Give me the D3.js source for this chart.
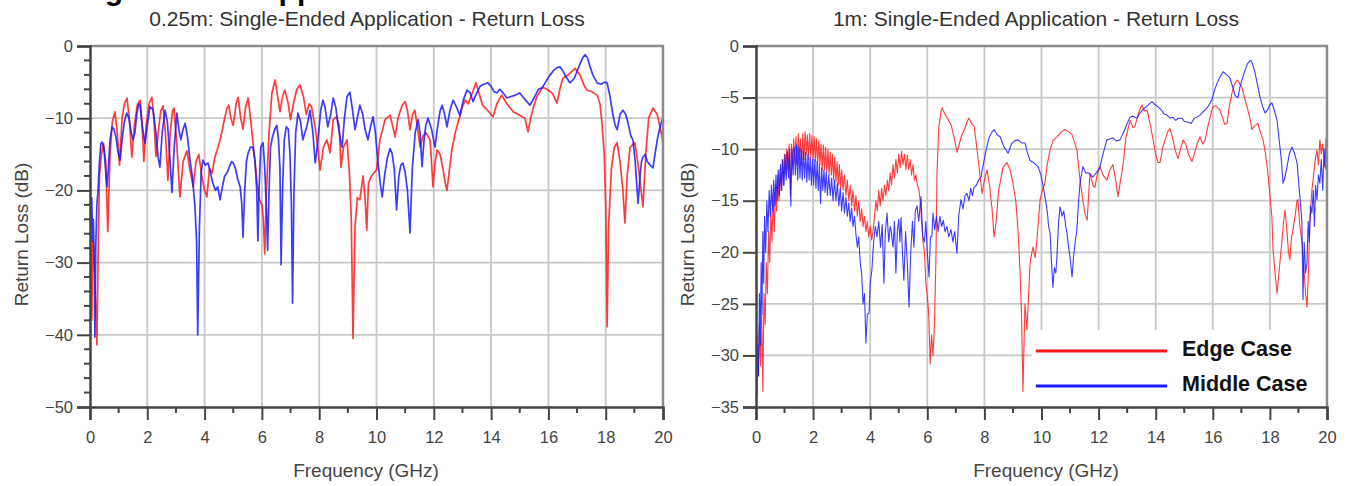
<!DOCTYPE html>
<html>
<head>
<meta charset="utf-8">
<script src="https://cdn.jsdelivr.net/npm/d3@7"></script>
<style>
  body { margin: 0; background: #fff; }
  svg { display: block; }
  text { font-family: Arial, "Liberation Sans", sans-serif; }
</style>
</head>
<body>
<svg id="fig" width="1348" height="486"></svg>
<script>
// ---- Data: return loss (dB) versus frequency (GHz), [GHz, dB] pairs ----
const freqTicks = [0, 2, 4, 6, 8, 10, 12, 14, 16, 18, 20];
const shortDbTicks = [0, -10, -20, -30, -40, -50];
const longDbTicks = [0, -5, -10, -15, -20, -25, -30, -35];
const seriesNames = ["Edge Case", "Middle Case"];
const seriesColors = ["#ff1a1a", "#1a1aff"];

// 0.25 m cable, edge pair
const edge025 = [
  [0.0,-22],[0.03,-24],[0.06,-38],[0.1,-27],[0.15,-30],[0.2,-36],[0.24,-41.4],[0.28,-30],[0.33,-18],[0.4,-15],
  [0.47,-13.5],[0.55,-16],[0.62,-25.7],[0.7,-15],[0.78,-10.5],[0.87,-9.1],[0.95,-12],[1.03,-16.5],[1.12,-10],[1.2,-8],
  [1.29,-7.2],[1.37,-10],[1.46,-15.4],[1.55,-11],[1.65,-8.2],[1.75,-7.5],[1.82,-11],[1.88,-16],[1.96,-11],[2.06,-8],
  [2.16,-7.1],[2.23,-10],[2.3,-15.3],[2.38,-12],[2.47,-9],[2.55,-8.3],[2.63,-12],[2.72,-18.6],[2.8,-12],[2.88,-9],
  [2.93,-8.6],[3.02,-13],[3.14,-20.9],[3.25,-16],[3.38,-14.5],[3.48,-17],[3.6,-19.5],[3.7,-16],[3.8,-15],[3.9,-18],
  [4.0,-20],[4.08,-20.9],[4.17,-17],[4.26,-17.6],[4.36,-15.4],[4.47,-14],[4.54,-13],[4.6,-12],[4.7,-10],[4.78,-8.6],
  [4.84,-8.2],[4.92,-10],[5.0,-11],[5.1,-8],[5.17,-7.1],[5.26,-10],[5.34,-11.5],[5.43,-8.5],[5.52,-7.2],[5.6,-10],
  [5.69,-13.4],[5.76,-16],[5.83,-19],[5.92,-21.3],[6.0,-22],[6.05,-24],[6.1,-28.8],[6.16,-20],[6.25,-12],[6.35,-6.5],
  [6.46,-4.7],[6.55,-7],[6.63,-9.1],[6.72,-7],[6.8,-6.1],[6.92,-8],[7.0,-10.2],[7.1,-8],[7.22,-6],[7.33,-5.4],
  [7.45,-7],[7.55,-9.5],[7.65,-8],[7.73,-8.4],[7.85,-11],[7.95,-14],[8.03,-17.2],[8.15,-14],[8.27,-13],[8.38,-14.8],
  [8.49,-10.2],[8.6,-9.8],[8.7,-11],[8.76,-16.8],[8.85,-14],[8.97,-13],[9.06,-18],[9.12,-24],[9.18,-40.5],[9.25,-25],
  [9.33,-21],[9.42,-21.3],[9.53,-18],[9.6,-21],[9.66,-25.5],[9.72,-19],[9.83,-18],[9.92,-17.5],[10.0,-17.2],[10.12,-13],
  [10.3,-10.2],[10.47,-9.6],[10.56,-11],[10.65,-12.6],[10.75,-10],[10.82,-9.1],[10.9,-8.2],[11.0,-7.7],[11.08,-9],[11.17,-11.6],
  [11.26,-9.5],[11.34,-8.9],[11.42,-11],[11.52,-14],[11.62,-12.5],[11.72,-12],[11.8,-12.5],[11.87,-13],[11.92,-16],[11.97,-19.5],
  [12.05,-16],[12.12,-14.4],[12.22,-15],[12.32,-17],[12.4,-19],[12.46,-20],[12.55,-17],[12.63,-14.4],[12.75,-12],[12.84,-10.7],
  [12.93,-9.5],[13.0,-8.4],[13.1,-7.5],[13.2,-8],[13.3,-7],[13.47,-5.1],[13.58,-6.5],[13.7,-8.2],[13.85,-8.8],[14.07,-9.8],
  [14.2,-8],[14.37,-6.8],[14.55,-8],[14.77,-9.1],[14.95,-9.5],[15.18,-10],[15.29,-11.9],[15.38,-10],[15.47,-8.6],[15.6,-7],
  [15.8,-5.7],[15.95,-6],[16.13,-6.5],[16.3,-7.9],[16.4,-6],[16.5,-4.5],[16.75,-3.8],[16.93,-3.1],[17.1,-4.0],[17.25,-5.5],
  [17.35,-6.1],[17.5,-6.3],[17.7,-6.8],[17.8,-8],[17.87,-10.7],[17.95,-15],[18.0,-22],[18.05,-38.9],[18.1,-25],[18.2,-17],
  [18.3,-14],[18.4,-13.4],[18.5,-16],[18.6,-20],[18.67,-24.5],[18.75,-18],[18.85,-14],[19.02,-13.4],[19.15,-17],[19.3,-22.3],
  [19.4,-15],[19.5,-10],[19.65,-8.6],[19.8,-9.5],[19.97,-12.6],[20.0,-14]
];

// 0.25 m cable, middle pair
const middle025 = [
  [0.0,-22],[0.03,-25],[0.06,-21],[0.09,-27],[0.12,-24],[0.15,-30],[0.17,-40.3],[0.2,-28],[0.24,-22],[0.28,-20],
  [0.33,-16],[0.38,-13.5],[0.42,-13.3],[0.48,-14],[0.53,-16.5],[0.59,-19.5],[0.63,-17.6],[0.7,-13],[0.77,-11.2],[0.83,-11.5],
  [0.9,-12.5],[0.97,-14.5],[1.05,-15.8],[1.12,-13],[1.2,-10.5],[1.28,-9.3],[1.36,-10],[1.44,-12],[1.5,-13],[1.57,-12],
  [1.63,-9.5],[1.7,-8],[1.75,-8.2],[1.82,-11],[1.92,-13.5],[2.0,-11],[2.09,-8.4],[2.2,-8.8],[2.3,-12],[2.38,-15.5],
  [2.44,-16.8],[2.52,-12],[2.62,-8.9],[2.7,-10.5],[2.78,-15],[2.86,-20.3],[2.94,-14],[3.03,-9.3],[3.1,-11.5],[3.17,-13],
  [3.25,-11.5],[3.32,-10.7],[3.4,-12.5],[3.49,-15.8],[3.57,-18],[3.66,-22],[3.72,-27],[3.76,-40],[3.82,-25],[3.88,-17.5],
  [3.94,-15.8],[4.03,-16.5],[4.12,-16.2],[4.2,-17.5],[4.29,-19],[4.38,-20],[4.46,-19.5],[4.54,-21.3],[4.62,-19.5],[4.7,-18],
  [4.78,-17.6],[4.86,-16.8],[4.94,-16],[5.0,-16.2],[5.08,-17],[5.16,-18.5],[5.24,-19.5],[5.3,-22],[5.34,-26.5],[5.4,-20],
  [5.46,-16],[5.52,-14.8],[5.6,-14],[5.69,-14],[5.76,-16],[5.82,-20],[5.86,-27],[5.9,-20],[5.96,-14],[6.04,-13.4],
  [6.1,-17],[6.16,-23],[6.2,-28.3],[6.25,-20],[6.3,-14],[6.37,-12.6],[6.45,-11.5],[6.52,-11],[6.58,-13],[6.63,-17],
  [6.67,-30.3],[6.72,-20],[6.78,-13],[6.85,-11.2],[6.92,-11.5],[6.98,-15],[7.03,-22],[7.07,-35.6],[7.12,-20],[7.18,-12],
  [7.26,-9.3],[7.35,-10.5],[7.43,-13],[7.5,-12],[7.58,-11],[7.68,-8.9],[7.78,-12],[7.86,-16.2],[7.92,-14.4],[7.98,-12],
  [8.05,-9],[8.13,-7.5],[8.2,-8.4],[8.3,-11.2],[8.4,-9.5],[8.49,-7.2],[8.58,-8.5],[8.66,-11],[8.74,-13],[8.8,-14],
  [8.88,-10],[8.97,-7],[9.07,-6.4],[9.15,-8.5],[9.25,-11.6],[9.33,-10],[9.42,-8.2],[9.52,-9.5],[9.6,-11.5],[9.7,-13],
  [9.8,-11],[9.88,-9.8],[9.96,-12],[10.05,-16],[10.13,-19],[10.2,-20.9],[10.28,-18],[10.38,-15.5],[10.47,-14.2],[10.54,-14.8],
  [10.62,-17],[10.7,-22.7],[10.78,-18],[10.85,-16.5],[10.92,-16.2],[11.0,-17.5],[11.08,-20],[11.17,-25.9],[11.25,-17],[11.35,-12],
  [11.45,-10.2],[11.52,-12],[11.59,-16.7],[11.66,-13],[11.72,-11],[11.8,-10],[11.92,-11.5],[12.04,-14],[12.14,-11],[12.22,-9],
  [12.29,-8.2],[12.38,-9.5],[12.46,-11.2],[12.56,-9],[12.67,-7.5],[12.8,-8.5],[12.91,-9.6],[13.03,-7.5],[13.16,-6.1],[13.27,-6.5],
  [13.37,-7.7],[13.5,-6.5],[13.63,-5.5],[13.75,-5.3],[13.89,-5.1],[14.0,-5.6],[14.1,-6.3],[14.2,-6.5],[14.3,-6],[14.42,-6.5],
  [14.55,-7.2],[14.7,-7.0],[14.85,-6.8],[15.0,-6.5],[15.1,-7],[15.2,-7.5],[15.36,-8.2],[15.5,-7.2],[15.65,-6],[15.78,-5.8],
  [15.9,-5],[16.06,-4.0],[16.2,-3.3],[16.3,-3],[16.41,-2.9],[16.5,-3.4],[16.6,-4.2],[16.75,-5.1],[16.9,-4.5],[17.0,-3.5],
  [17.1,-2.5],[17.2,-1.6],[17.28,-1.2],[17.36,-1.6],[17.45,-2.8],[17.55,-4],[17.7,-5.1],[17.85,-5.3],[17.95,-5],[18.05,-5.1],
  [18.15,-7],[18.25,-9.5],[18.33,-11],[18.4,-11.6],[18.5,-9.5],[18.6,-8.9],[18.7,-9.5],[18.8,-11],[18.88,-12.5],[18.95,-13],
  [19.03,-16],[19.08,-19],[19.13,-21.8],[19.2,-18],[19.25,-16],[19.3,-15.4],[19.38,-15],[19.45,-16],[19.55,-16.5],[19.65,-16.9],
  [19.72,-15],[19.8,-13],[19.88,-11.5],[19.97,-10.2],[20.0,-11]
];

// 1 m cable, edge pair
const edge1m = [
  [0.0,-30],[0.04,-28],[0.08,-32],[0.12,-27],[0.16,-31],[0.2,-26],[0.24,-33.5],[0.28,-24],[0.32,-27],[0.36,-21],
  [0.4,-24],[0.44,-18],[0.48,-21],[0.52,-16],[0.56,-19],[0.6,-14.5],[0.64,-18],[0.68,-13.5],[0.72,-16],[0.76,-12.5],
  [0.8,-15],[0.84,-12],[0.88,-14],[0.92,-11],[0.96,-13.5],[1.0,-10.5],[1.04,-12.5],[1.08,-10],[1.12,-12],[1.16,-9.5],
  [1.2,-14.5],[1.24,-9.5],[1.28,-11.5],[1.32,-9],[1.36,-11],[1.4,-8.8],[1.44,-11.5],[1.48,-8.5],[1.52,-11],[1.56,-9],
  [1.6,-11.5],[1.64,-8.5],[1.68,-11],[1.72,-8.3],[1.76,-10.5],[1.8,-8.6],[1.84,-11],[1.88,-8.5],[1.92,-10.8],[1.96,-8.7],
  [2.0,-11],[2.04,-8.8],[2.08,-11.2],[2.12,-9],[2.16,-11.5],[2.2,-9.2],[2.24,-11.5],[2.28,-9.5],[2.32,-12],[2.36,-9.6],
  [2.4,-12],[2.44,-9.8],[2.48,-12.2],[2.52,-10],[2.56,-12.5],[2.6,-10.3],[2.64,-12.5],[2.68,-10.5],[2.72,-13],[2.76,-10.8],
  [2.8,-13.2],[2.84,-11.2],[2.88,-13.5],[2.92,-11.5],[2.96,-13.8],[3.0,-12],[3.05,-14],[3.1,-12.5],[3.15,-14.5],[3.2,-13],
  [3.25,-15],[3.3,-13.5],[3.35,-15.5],[3.4,-14],[3.45,-16],[3.5,-14.5],[3.55,-16.5],[3.6,-15],[3.65,-17],[3.7,-15.8],
  [3.75,-17.5],[3.8,-16.5],[3.85,-18],[3.9,-17],[3.95,-18.5],[4.0,-17.5],[4.05,-18.8],[4.1,-18],[4.15,-16.5],[4.2,-15],
  [4.25,-16],[4.3,-14],[4.35,-15.5],[4.4,-13.8],[4.45,-15],[4.5,-13.5],[4.55,-14.5],[4.6,-13],[4.65,-14],[4.7,-12.3],
  [4.75,-13.5],[4.8,-11.5],[4.85,-12.8],[4.9,-11],[4.95,-12.3],[5.0,-10.5],[5.05,-11.8],[5.1,-10.2],[5.15,-11.5],[5.2,-10.5],
  [5.25,-12],[5.3,-10.6],[5.35,-12],[5.4,-11],[5.45,-12.5],[5.5,-11.5],[5.55,-13],[5.6,-12.5],[5.65,-13.5],[5.7,-13.8],
  [5.75,-15],[5.8,-17],[5.85,-19],[5.9,-20],[5.95,-23],[6.0,-24.3],[6.05,-26],[6.1,-30.8],[6.15,-28],[6.2,-30],
  [6.25,-27],[6.3,-21],[6.34,-12.3],[6.4,-8],[6.48,-6.3],[6.52,-6],[6.6,-6.5],[6.7,-7],[6.83,-7.6],[6.95,-9],
  [7.04,-10.3],[7.12,-9.5],[7.2,-8.7],[7.3,-8.1],[7.4,-7.3],[7.46,-7],[7.55,-7.5],[7.64,-7.8],[7.72,-9.5],[7.81,-11.7],
  [7.92,-14.3],[8.0,-13],[8.09,-12],[8.18,-13.5],[8.27,-15.9],[8.34,-18.5],[8.41,-17],[8.5,-14],[8.55,-13.3],[8.65,-11.8],
  [8.79,-11.3],[8.9,-12],[9.0,-13.3],[9.1,-15],[9.18,-18],[9.25,-22],[9.3,-26],[9.35,-33.5],[9.42,-25],[9.49,-27.5],
  [9.55,-24],[9.6,-21],[9.7,-19.5],[9.78,-20.5],[9.84,-18.8],[9.95,-14.9],[10.05,-13.8],[10.12,-13.3],[10.2,-11.5],[10.3,-10.1],
  [10.4,-9.2],[10.54,-8.8],[10.7,-8.3],[10.82,-8.1],[10.95,-8.3],[11.07,-8.6],[11.15,-9.3],[11.24,-10.1],[11.35,-13],[11.45,-15],
  [11.52,-16.2],[11.6,-16.9],[11.66,-14],[11.7,-12.3],[11.8,-13.5],[11.87,-13.7],[11.95,-12.5],[12.05,-11.7],[12.15,-12.5],[12.29,-13],
  [12.4,-12],[12.5,-11.5],[12.6,-13],[12.68,-14.6],[12.77,-13],[12.85,-11.7],[12.95,-9],[13.1,-7.2],[13.2,-7.9],[13.27,-7.8],
  [13.4,-6.5],[13.52,-5.7],[13.6,-6.3],[13.7,-6.2],[13.8,-7.5],[13.91,-9.1],[14.0,-10.5],[14.08,-11.3],[14.15,-11.3],[14.25,-9.8],
  [14.33,-9.1],[14.42,-8.3],[14.5,-8],[14.6,-9],[14.68,-10.1],[14.78,-10.9],[14.87,-10],[14.96,-9.1],[15.05,-9.5],[15.15,-10.5],
  [15.27,-11.2],[15.35,-10.5],[15.45,-9.5],[15.55,-8.8],[15.65,-9.5],[15.73,-9.1],[15.85,-7.5],[16.0,-5.9],[16.1,-5.8],[16.25,-6.2],
  [16.35,-7],[16.42,-7.6],[16.5,-7.5],[16.58,-5.8],[16.67,-4.6],[16.75,-3.8],[16.85,-3.3],[16.93,-3.6],[17.02,-4.0],[17.1,-4.9],
  [17.2,-5.9],[17.3,-7],[17.37,-8.1],[17.45,-7.8],[17.58,-7.5],[17.66,-8.3],[17.76,-9.1],[17.85,-10.5],[17.93,-12.3],[18.0,-14.5],
  [18.07,-16.6],[18.11,-19.8],[18.18,-22],[18.25,-24],[18.3,-22.5],[18.35,-21],[18.42,-19],[18.48,-17],[18.53,-15.9],[18.6,-18],
  [18.65,-20],[18.7,-20.7],[18.76,-18.5],[18.81,-17.8],[18.88,-16.5],[18.95,-15],[18.98,-14.9],[19.05,-17.5],[19.12,-19],[19.2,-22],
  [19.25,-24],[19.3,-25.3],[19.35,-22],[19.4,-17],[19.47,-14],[19.55,-12],[19.6,-10.8],[19.65,-10.1],[19.7,-11.5],[19.75,-9.1],
  [19.8,-10.5],[19.85,-9.5],[19.93,-11.7],[19.97,-12],[20.0,-11]
];

// 1 m cable, middle pair
const middle1m = [
  [0.0,-31],[0.03,-34],[0.06,-29],[0.09,-32],[0.12,-24],[0.15,-29],[0.18,-21],[0.21,-26],[0.24,-18],[0.27,-23],
  [0.3,-16.5],[0.34,-20],[0.38,-15],[0.42,-18],[0.46,-14],[0.5,-16.5],[0.54,-13.5],[0.58,-16],[0.62,-13],[0.66,-15.5],
  [0.7,-12.5],[0.74,-15],[0.78,-12],[0.82,-14.5],[0.86,-11.5],[0.9,-14],[0.94,-11],[0.98,-13.5],[1.02,-10.5],[1.06,-13],
  [1.1,-10.2],[1.14,-12.8],[1.18,-10],[1.22,-15.5],[1.26,-10],[1.3,-12.5],[1.34,-9.8],[1.38,-12.5],[1.42,-9.6],[1.46,-13],
  [1.5,-9.8],[1.54,-12.8],[1.58,-10],[1.62,-13],[1.66,-10.2],[1.7,-12.8],[1.74,-10.3],[1.78,-13.2],[1.82,-10.5],[1.86,-13],
  [1.9,-10.8],[1.94,-13.5],[1.98,-11],[2.02,-13.5],[2.06,-11],[2.1,-13.8],[2.14,-11.2],[2.18,-14],[2.22,-11.5],[2.26,-15.3],
  [2.3,-11.8],[2.34,-14],[2.38,-12],[2.42,-14.2],[2.46,-12.2],[2.5,-14.5],[2.55,-12.5],[2.6,-14.5],[2.65,-12.8],[2.7,-15],
  [2.75,-13],[2.8,-15],[2.85,-13.3],[2.9,-15.5],[2.95,-13.8],[3.0,-16],[3.05,-14.2],[3.1,-16.2],[3.15,-14.7],[3.2,-16.5],
  [3.25,-15.2],[3.3,-17],[3.35,-15.7],[3.4,-17.5],[3.45,-16.5],[3.5,-18.2],[3.55,-19.5],[3.6,-18.5],[3.65,-21],[3.7,-22],
  [3.75,-25],[3.8,-24],[3.85,-28.8],[3.9,-26],[3.96,-25.9],[4.0,-23],[4.06,-21.7],[4.12,-19],[4.18,-17.5],[4.24,-18.5],
  [4.3,-17],[4.36,-19.5],[4.42,-17.3],[4.48,-23],[4.53,-18],[4.59,-16.2],[4.65,-19],[4.7,-17.5],[4.73,-17.8],[4.8,-19.5],
  [4.85,-17],[4.9,-22],[4.95,-18],[5.0,-16.8],[5.04,-19],[5.08,-16.6],[5.13,-20],[5.18,-22.7],[5.24,-18],[5.3,-21],
  [5.36,-25.3],[5.42,-20],[5.48,-17],[5.53,-19.5],[5.58,-16],[5.64,-15.5],[5.7,-17],[5.78,-14.6],[5.84,-18.5],[5.9,-19],
  [5.95,-17],[6.0,-20],[6.06,-22.4],[6.11,-18.5],[6.16,-18.5],[6.2,-16.2],[6.26,-17.8],[6.32,-16.5],[6.38,-18],[6.44,-16.5],
  [6.5,-17.5],[6.56,-16.9],[6.62,-18],[6.69,-17.5],[6.75,-18.5],[6.83,-17.8],[6.9,-19],[6.96,-18],[7.04,-20.1],[7.1,-16.5],
  [7.18,-14.9],[7.25,-15.8],[7.32,-14.5],[7.39,-14.3],[7.46,-15],[7.52,-13.8],[7.58,-14.5],[7.64,-13.7],[7.72,-13.5],[7.8,-13],
  [7.88,-12.7],[7.96,-11.5],[8.06,-10.1],[8.15,-9],[8.25,-8.4],[8.34,-8.1],[8.45,-8.6],[8.55,-8.8],[8.69,-9.8],[8.83,-10.4],
  [8.95,-9.5],[9.05,-9.2],[9.18,-9.1],[9.3,-9.4],[9.42,-9.4],[9.5,-10.3],[9.6,-11.1],[9.72,-11.3],[9.8,-11.5],[9.88,-11.7],
  [9.98,-12.5],[10.05,-13.5],[10.12,-14.6],[10.2,-16],[10.25,-17.5],[10.3,-18.1],[10.35,-21],[10.4,-23.4],[10.45,-21.5],[10.5,-22],
  [10.54,-20.5],[10.6,-17],[10.65,-15.6],[10.72,-16.5],[10.78,-16],[10.85,-17.5],[10.89,-18.1],[10.95,-19.5],[11.0,-20.5],[11.07,-22.4],
  [11.12,-20.5],[11.18,-19],[11.24,-17.8],[11.3,-15],[11.35,-13.3],[11.45,-11.7],[11.55,-12.3],[11.63,-12.3],[11.72,-12.5],[11.8,-12.7],
  [11.92,-12.3],[12.05,-11.7],[12.15,-10.5],[12.29,-9.1],[12.4,-9],[12.5,-8.9],[12.62,-9.2],[12.75,-9.1],[12.92,-8.1],[13.0,-7.5],
  [13.1,-6.9],[13.2,-6.8],[13.34,-7.0],[13.45,-6.5],[13.55,-6.2],[13.7,-5.8],[13.87,-5.4],[13.98,-5.7],[14.08,-5.9],[14.2,-6.2],
  [14.3,-6.6],[14.4,-6.7],[14.5,-7.0],[14.6,-6.9],[14.7,-7.2],[14.8,-7.0],[14.92,-7.0],[15.0,-7.3],[15.13,-7.4],[15.25,-7.5],
  [15.35,-7.0],[15.45,-6.9],[15.55,-6.7],[15.65,-6.4],[15.73,-6.2],[15.85,-5.8],[15.97,-5.2],[16.06,-4.3],[16.15,-3.6],[16.25,-3.0],
  [16.36,-2.5],[16.45,-2.7],[16.6,-3.1],[16.7,-4.0],[16.78,-4.8],[16.88,-5.0],[16.95,-4.0],[17.02,-3.3],[17.1,-2.6],[17.2,-1.8],
  [17.27,-1.5],[17.34,-1.4],[17.4,-1.8],[17.48,-2.6],[17.56,-3.7],[17.65,-4.9],[17.74,-5.8],[17.83,-6.5],[17.92,-6.2],[18.0,-5.7],
  [18.07,-5.5],[18.15,-6.2],[18.25,-7.2],[18.32,-9],[18.38,-10.5],[18.42,-11.7],[18.46,-13.3],[18.52,-12.8],[18.6,-11.7],[18.68,-10.5],
  [18.77,-9.8],[18.85,-10.3],[18.95,-11.3],[19.05,-14.6],[19.12,-17],[19.16,-24.6],[19.2,-19],[19.25,-22],[19.3,-21],[19.34,-17],
  [19.38,-19],[19.42,-15.5],[19.47,-16.2],[19.52,-14],[19.56,-17.5],[19.6,-13.5],[19.65,-14.9],[19.7,-12.5],[19.75,-13.3],[19.8,-11],
  [19.85,-14],[19.9,-10],[19.93,-11.7],[19.97,-9],[20.0,-8.4]
];

// ---- Panel layout ----
const panels = [
  { title: "0.25m:  Single-Ended Application - Return Loss", left: 90, right: 663, top: 46, bottom: 407,
    yTicks: shortDbTicks, yMinorStep: 2, series: [edge025, middle025], lineWidth: 1.7, legend: false,
    titleX: 367, xTitleX: 366 },
  { title: "1m:  Single-Ended Application - Return Loss", left: 756, right: 1327, top: 46, bottom: 407,
    yTicks: longDbTicks, yMinorStep: null, series: [edge1m, middle1m], lineWidth: 1.1, legend: true,
    titleX: 1036, xTitleX: 1046 }
];

const svg = d3.select("#fig");

// Heading above the two plots (its top runs off the page edge)
svg.append("text")
  .attr("x", 58).attr("y", 0)
  .attr("font-size", 30).attr("font-weight", "bold").attr("fill", "#000")
  .text("Single-Ended Application");

panels.forEach((p, i) => {
  const x = d3.scaleLinear().domain([0, 20]).range([p.left, p.right]);
  const yMin = d3.min(p.yTicks);
  const y = d3.scaleLinear().domain([yMin, 0]).range([p.bottom, p.top]);
  const g = svg.append("g");

  // grid
  g.append("g").selectAll("line").data(freqTicks.filter(t => t > 0 && t < 20)).join("line")
    .attr("x1", d => x(d)).attr("x2", d => x(d)).attr("y1", p.top).attr("y2", p.bottom)
    .attr("stroke", "#c8c8c8").attr("stroke-width", 1.8);
  g.append("g").selectAll("line").data(p.yTicks.filter(t => t < 0 && t > yMin)).join("line")
    .attr("x1", p.left).attr("x2", p.right).attr("y1", d => y(d)).attr("y2", d => y(d))
    .attr("stroke", "#c8c8c8").attr("stroke-width", 1.8);

  // traces
  const clipId = "clip" + i;
  svg.append("clipPath").attr("id", clipId).append("rect")
    .attr("x", p.left).attr("y", p.top - 2).attr("width", p.right - p.left).attr("height", p.bottom - p.top + 2);
  const line = d3.line().x(d => x(d[0])).y(d => y(d[1]));
  const traces = g.append("g").attr("clip-path", `url(#${clipId})`);
  p.series.forEach((s, k) => {
    traces.append("path").datum(s)
      .attr("d", line).attr("fill", "none")
      .attr("stroke", seriesColors[k]).attr("stroke-width", p.lineWidth)
      .attr("stroke-linejoin", "round").attr("stroke-opacity", 0.85);
  });

  // legend
  if (p.legend) {
    const lg = g.append("g");
    const legendTop = 330;
    lg.append("rect").attr("x", x(9.65)).attr("y", legendTop).attr("width", p.right - x(9.65) - 1.5)
      .attr("height", p.bottom - legendTop - 1).attr("fill", "#fff");
    seriesNames.forEach((name, k) => {
      const ly = 351 + k * 35;
      lg.append("line").attr("x1", x(9.8)).attr("x2", x(14.4)).attr("y1", ly).attr("y2", ly)
        .attr("stroke", seriesColors[k]).attr("stroke-width", 3);
      lg.append("text").attr("x", 1182).attr("y", ly + 5)
        .attr("font-size", 21.5).attr("font-weight", "bold").attr("fill", "#111").text(name);
    });
  }

  // frame: top and right in grey
  g.append("path")
    .attr("d", `M${p.left},${p.top}H${p.right}V${p.bottom}`)
    .attr("fill", "none").attr("stroke", "#8a8a8a").attr("stroke-width", 2.5);

  // x axis
  const xAxis = d3.axisBottom(x).tickValues(freqTicks).tickSize(13).tickPadding(11).tickFormat(d3.format("d"));
  const xa = g.append("g").attr("transform", `translate(0,${p.bottom})`).call(xAxis);
  const xMinor = d3.range(1, 20, 2);
  xa.append("g").selectAll("line").data(xMinor).join("line")
    .attr("x1", d => x(d)).attr("x2", d => x(d)).attr("y1", 0).attr("y2", 6)
    .attr("stroke", "#444").attr("stroke-width", 2);

  // y axis
  const yAxis = d3.axisLeft(y).tickValues(p.yTicks).tickSize(13).tickPadding(4).tickFormat(d3.format("d"));
  const ya = g.append("g").attr("transform", `translate(${p.left},0)`).call(yAxis);
  if (p.yMinorStep) {
    const minor = d3.range(yMin, 0, p.yMinorStep).filter(v => v % 10 !== 0);
    ya.append("g").selectAll("line").data(minor).join("line")
      .attr("x1", -6).attr("x2", 0).attr("y1", d => y(d)).attr("y2", d => y(d))
      .attr("stroke", "#444").attr("stroke-width", 2);
  }

  [xa, ya].forEach(a => {
    a.select(".domain").attr("stroke", "#444").attr("stroke-width", 2.5);
    a.selectAll(".tick line").attr("stroke", "#444").attr("stroke-width", 2);
    a.selectAll(".tick text").attr("fill", "#444").attr("font-size", 16.5)
      .attr("font-family", "Arial, 'Liberation Sans', sans-serif");
  });

  // titles
  g.append("text").attr("x", p.titleX).attr("y", 26).attr("text-anchor", "middle")
    .attr("font-size", 21).attr("fill", "#333").text(p.title);
  g.append("text").attr("x", p.xTitleX).attr("y", 477).attr("text-anchor", "middle")
    .attr("font-size", 19).attr("fill", "#444").text("Frequency (GHz)");
  g.append("text")
    .attr("transform", `translate(${p.left - 62},${(p.top + p.bottom) / 2 + 8}) rotate(-90)`)
    .attr("text-anchor", "middle").attr("font-size", 19).attr("fill", "#444").text("Return Loss (dB)");
});
</script>
</body>
</html>
